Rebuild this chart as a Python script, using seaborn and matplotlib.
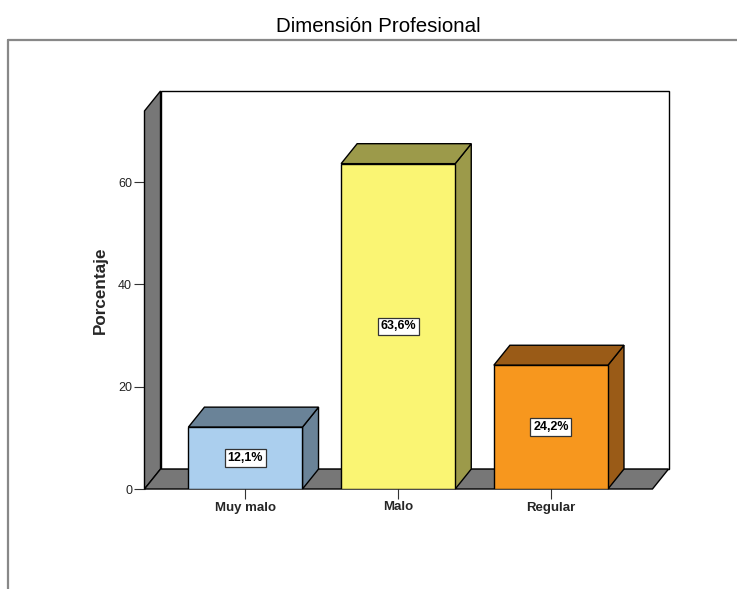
import matplotlib
matplotlib.use("Agg")
import matplotlib.pyplot as plt
from matplotlib.patches import Polygon, Rectangle
import seaborn as sns
import pandas as pd

categorias = ["Muy malo", "Malo", "Regular"]
porcentajes = [12.1, 63.6, 24.2]
etiquetas = ["12,1%", "63,6%", "24,2%"]
colores_frente = ["#abcfee", "#faf573", "#f7971e"]
colores_lado = ["#6a8398", "#9c9a4a", "#9a5b17"]
ticks_y = [0, 20, 40, 60]

sns.set_theme(style="white")
plt.rcParams["font.family"] = ["Liberation Sans", "DejaVu Sans"]

fig = plt.figure(figsize=(7.37, 5.89), dpi=100)
ax = fig.add_axes([144.5 / 737, (589 - 489) / 589, (668.5 - 144.5) / 737, (489 - 91) / 589])

x0, x1 = -0.661, 2.770
y1 = 77.8
dx, dy = 0.105, 3.9
ancho = 0.747

# back wall, left wall and floor of the 3D box
ax.add_patch(Rectangle((x0 + dx, dy), x1 - x0 - dx, y1 - dy, facecolor="white",
                       edgecolor="black", lw=1.0, zorder=0.5, clip_on=False))
ax.add_patch(Polygon([(x0, 0), (x0 + dx, dy), (x0 + dx, y1), (x0, y1 - dy)],
                     closed=True, facecolor="#777777", edgecolor="black", lw=1.0,
                     zorder=0.6, clip_on=False))
ax.add_patch(Polygon([(x0, 0), (x1 - dx, 0), (x1, dy), (x0 + dx, dy)],
                     closed=True, facecolor="#777777", edgecolor="black", lw=1.0,
                     zorder=0.6, clip_on=False))

df = pd.DataFrame({"categoria": categorias, "porcentaje": porcentajes})
sns.barplot(data=df, x="categoria", y="porcentaje", hue="categoria",
            palette=colores_frente, width=ancho, edgecolor="black", linewidth=1.0,
            legend=False, saturation=1, ax=ax, zorder=2)

barras = [p for p in ax.patches if isinstance(p, Rectangle) and p.get_zorder() == 2]
for barra, lado, etiqueta in zip(barras, colores_lado, etiquetas):
    xl = barra.get_x()
    xr = xl + barra.get_width()
    h = barra.get_height()
    # right side and top faces of each bar
    ax.add_patch(Polygon([(xr, 0), (xr + dx, dy), (xr + dx, h + dy), (xr, h)],
                         closed=True, facecolor=lado, edgecolor="black", lw=1.0,
                         zorder=1.9, clip_on=False))
    ax.add_patch(Polygon([(xl, h), (xl + dx, h + dy), (xr + dx, h + dy), (xr, h)],
                         closed=True, facecolor=lado, edgecolor="black", lw=1.0,
                         zorder=1.9, clip_on=False))
    ax.text(xl + barra.get_width() / 2, h / 2, etiqueta, ha="center", va="center",
            fontsize=9, fontweight="bold", color="black", zorder=3,
            bbox=dict(boxstyle="square,pad=0.22", facecolor="white",
                      edgecolor="#333333", lw=0.9))

ax.set_xlim(x0, x1)
ax.set_ylim(0, y1)
for s in ax.spines.values():
    s.set_visible(False)
ax.set_yticks(ticks_y)
ax.set_yticklabels([str(t) for t in ticks_y])
ax.tick_params(axis="y", left=True, length=8, width=0.8, color="#333333",
               labelsize=9, pad=1, labelcolor="#222222")
ax.tick_params(axis="x", bottom=True, length=7, width=0.8, color="#333333",
               labelsize=9.5, pad=2)
for lbl in ax.get_xticklabels():
    lbl.set_fontweight("bold")
ax.set_xlabel("")
ax.set_ylabel("Porcentaje", fontsize=12.3, fontweight="bold", labelpad=7)

fig.text(378 / 737, 1 - 31.7 / 589, "Dimensión Profesional", ha="center", va="baseline",
         fontsize=14.8, color="black")

# outer frame lines
fig.add_artist(plt.Line2D([8 / 737, 1], [1 - 40 / 589, 1 - 40 / 589], color="#888888",
                          lw=1.6, transform=fig.transFigure))
fig.add_artist(plt.Line2D([8 / 737, 8 / 737], [0, 1 - 40 / 589], color="#888888",
                          lw=1.6, transform=fig.transFigure))

fig.savefig("out.png", dpi=100, facecolor="white")
